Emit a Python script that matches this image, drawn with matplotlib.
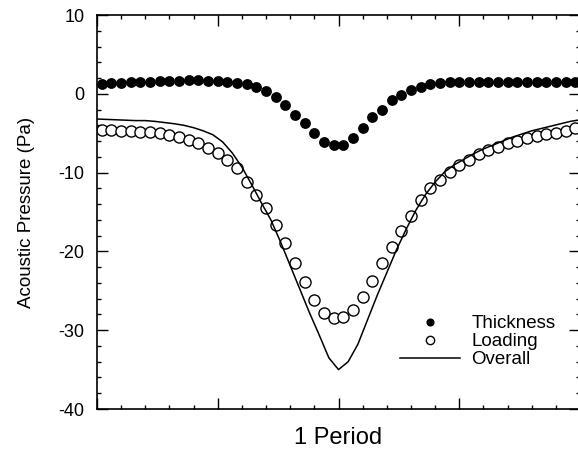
#!/usr/bin/env python
# -*- coding: utf-8 -*-

import numpy as np
import matplotlib
matplotlib.use('Agg')
import matplotlib.pyplot as plt
from matplotlib.ticker import MultipleLocator

plt.rcParams['font.family'] = ['Liberation Sans', 'DejaVu Sans']
plt.rcParams['axes.unicode_minus'] = False

# 50 samples over one period, centred in each bin
n_pts = 50
x_pts = (np.arange(n_pts) + 0.5) / n_pts

thickness = [1.3, 1.35, 1.4, 1.45, 1.5, 1.55, 1.6, 1.65, 1.65, 1.7,
             1.7, 1.65, 1.6, 1.5, 1.4, 1.2, 0.8, 0.4, -0.4, -1.4,
             -2.7, -3.7, -5.0, -6.1, -6.5, -6.5, -5.6, -4.3, -3.0, -2.0,
             -0.8, -0.1, 0.5, 0.9, 1.2, 1.35, 1.45, 1.5, 1.55, 1.55,
             1.55, 1.55, 1.55, 1.55, 1.55, 1.55, 1.55, 1.55, 1.5, 1.5]

loading = [-4.6, -4.6, -4.7, -4.7, -4.8, -4.8, -5.0, -5.2, -5.5, -5.8,
           -6.2, -6.9, -7.5, -8.4, -9.4, -11.2, -12.8, -14.5, -16.6, -18.9,
           -21.5, -23.9, -26.2, -27.8, -28.4, -28.3, -27.4, -25.8, -23.7, -21.5,
           -19.4, -17.4, -15.5, -13.5, -11.9, -10.9, -9.9, -9.0, -8.4, -7.7,
           -7.1, -6.7, -6.2, -6.0, -5.6, -5.3, -5.1, -4.95, -4.7, -4.4]

# overall curve sampled on the bin edges
x_line = np.arange(n_pts + 1) / n_pts
overall = [-3.2, -3.25, -3.3, -3.35, -3.4, -3.4, -3.5, -3.65, -3.8, -4.0,
           -4.3, -4.7, -5.2, -6.1, -7.5, -9.3, -11.5, -13.8, -16.0, -18.8,
           -21.8, -24.8, -27.8, -30.6, -33.5, -35.0, -34.0, -31.8, -28.7, -25.6,
           -22.7, -19.8, -17.2, -14.8, -12.8, -11.2, -9.9, -9.0, -8.3, -7.6,
           -7.0, -6.5, -6.0, -5.5, -5.1, -4.7, -4.4, -4.1, -3.8, -3.5,
           -3.3]

y_ticks = [-40, -30, -20, -10, 0, 10]


def plot_pressure(ax):
    ax.plot(x_pts, thickness, 'o', color='k', markersize=7.8,
            markeredgewidth=0, label='Thickness', clip_on=False)
    ax.plot(x_pts, loading, 'o', markerfacecolor='w', markeredgecolor='k',
            markersize=8.0, markeredgewidth=1.0, label='Loading')
    ax.plot(x_line, overall, '-', color='k', lw=1.1, label='Overall')

    ax.set_xlim(0, 1)
    ax.set_ylim(-40, 10)
    ax.set_yticks(y_ticks)
    ax.yaxis.set_minor_locator(MultipleLocator(2))
    ax.xaxis.set_major_locator(MultipleLocator(0.25))
    ax.xaxis.set_minor_locator(MultipleLocator(0.05))
    ax.set_xticklabels([])

    ax.tick_params(which='both', direction='in', top=True, right=True,
                   width=1.0, labelsize=13)
    ax.tick_params(which='major', length=8, pad=9)
    ax.tick_params(which='minor', length=3)
    ax.tick_params(axis='x', which='both', labelbottom=False)
    for sp in ax.spines.values():
        sp.set_linewidth(1.2)

    ax.set_ylabel('Acoustic Pressure (Pa)', fontsize=13.5)
    ax.yaxis.set_label_coords(-0.128, 0.5)
    ax.set_xlabel('1 Period', fontsize=17)
    ax.xaxis.set_label_coords(0.5, -0.045)


def main():
    fig = plt.figure(figsize=(5.78, 4.61), dpi=100)
    ax = fig.add_axes([97 / 578, 52 / 461, 483 / 578, 394 / 461])
    plot_pressure(ax)

    ax.legend(loc='upper left', bbox_to_anchor=(400 / 578, 1 - 315 / 461),
              bbox_transform=fig.transFigure, frameon=False, fontsize=13.5,
              handlelength=3.2, handletextpad=0.6, labelspacing=0.05,
              borderpad=0, borderaxespad=0, markerscale=0.75)

    fig.savefig('out.png', dpi=100)


if __name__ == '__main__':
    main()
